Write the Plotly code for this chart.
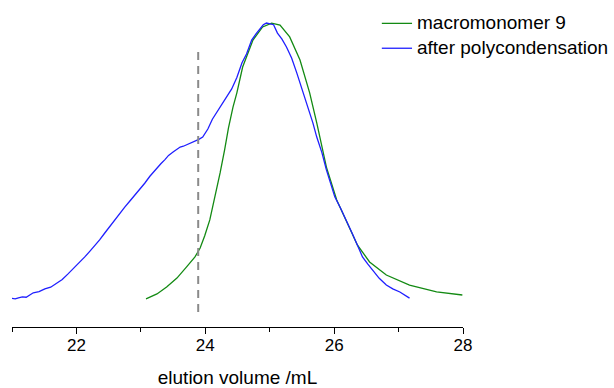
import plotly.graph_objects as go

# GPC traces: elution volume (mL) vs normalised RI signal
mono_vol = [23.08, 23.25, 23.40, 23.56, 23.71, 23.84, 23.92, 23.99, 24.07, 24.15,
            24.23, 24.30, 24.36, 24.43, 24.49, 24.58, 24.74, 24.89, 25.03, 25.16,
            25.31, 25.47, 25.62, 25.73, 25.88, 26.04, 26.19, 26.36, 26.55, 26.81,
            27.17, 27.59, 27.99]
mono_sig = [0.004, 0.022, 0.047, 0.079, 0.119, 0.155, 0.187, 0.230, 0.288, 0.371,
            0.457, 0.540, 0.619, 0.694, 0.745, 0.838, 0.935, 0.982, 0.996, 0.989,
            0.946, 0.863, 0.745, 0.637, 0.478, 0.360, 0.281, 0.198, 0.137, 0.090,
            0.054, 0.029, 0.018]

poly_vol = [21.00, 21.05, 21.10, 21.16, 21.22, 21.28, 21.33, 21.42, 21.51, 21.60,
            21.70, 21.78, 21.87, 21.96, 22.05, 22.13, 22.21, 22.29, 22.36, 22.44,
            22.52, 22.60, 22.67, 22.75, 22.83, 22.91, 22.98, 23.06, 23.14, 23.20,
            23.25, 23.31, 23.37, 23.43, 23.50, 23.55, 23.61, 23.66, 23.71, 23.78,
            23.84, 23.90, 23.96, 24.04, 24.11, 24.23, 24.33, 24.41, 24.49, 24.57,
            24.64, 24.72, 24.79, 24.85, 24.90, 24.95, 25.00, 25.06, 25.12, 25.19,
            25.26, 25.34, 25.42, 25.48, 25.54, 25.61, 25.67, 25.73, 25.81, 25.88,
            25.95, 26.01, 26.10, 26.19, 26.28, 26.36, 26.44, 26.52, 26.60, 26.70,
            26.81, 26.91, 27.02, 27.10, 27.17]
poly_sig = [0.006, 0.004, 0.008, 0.011, 0.010, 0.018, 0.026, 0.030, 0.040, 0.046,
            0.061, 0.074, 0.094, 0.114, 0.137, 0.155, 0.176, 0.196, 0.216, 0.241,
            0.266, 0.289, 0.313, 0.334, 0.356, 0.378, 0.396, 0.420, 0.445, 0.462,
            0.475, 0.490, 0.504, 0.520, 0.532, 0.540, 0.550, 0.553, 0.558, 0.566,
            0.572, 0.578, 0.586, 0.615, 0.650, 0.694, 0.732, 0.759, 0.800, 0.853,
            0.885, 0.935, 0.958, 0.978, 0.990, 0.996, 0.993, 0.990, 0.960, 0.938,
            0.910, 0.870, 0.817, 0.775, 0.730, 0.685, 0.637, 0.586, 0.530, 0.468,
            0.415, 0.371, 0.330, 0.288, 0.240, 0.198, 0.155, 0.130, 0.108, 0.078,
            0.054, 0.040, 0.029, 0.016, 0.007]

series_names = ["macromonomer 9", "after polycondensation"]
series_colors = ["#138a13", "#1f1fff"]
cut_volume = 23.89

FONT = "Liberation Sans, Arial, sans-serif"

fig = go.Figure()
for vol, sig, name, col in zip([mono_vol, poly_vol], [mono_sig, poly_sig],
                               series_names, series_colors):
    fig.add_trace(go.Scatter(x=vol, y=sig, mode="lines", name=name,
                             line=dict(color=col, width=1.3), showlegend=False))

# dashed marker at the cut-off volume
fig.add_shape(type="line", x0=cut_volume, x1=cut_volume, y0=-0.043, y1=0.892,
              xref="x", yref="y", line=dict(color="#8a8a8a", width=2, dash="8px,6px"))

# key in the top-right corner: short line sample + label per series
key_rows = [0.993, 0.912]
for name, col, yr in zip(series_names, series_colors, key_rows):
    fig.add_shape(type="line", xref="paper", yref="paper",
                  x0=0.820, x1=0.887, y0=yr - 0.004, y1=yr - 0.004,
                  line=dict(color=col, width=1.3))
    fig.add_annotation(text=name, xref="paper", yref="paper", x=0.893, y=yr,
                       xanchor="left", yanchor="middle", showarrow=False,
                       font=dict(family=FONT, size=19, color="black"))

fig.update_layout(
    width=614, height=388,
    margin=dict(l=12, r=151, t=20, b=61, autoexpand=False),
    paper_bgcolor="white", plot_bgcolor="white",
    font=dict(family=FONT, size=17, color="black"),
    showlegend=False,
    xaxis=dict(range=[21, 28], showgrid=False, zeroline=False,
               showline=True, linecolor="black", linewidth=1.3,
               tick0=22, dtick=2, ticks="outside", ticklen=6, tickwidth=1.3,
               tickcolor="black", tickfont=dict(family=FONT, size=17),
               ticklabelstandoff=-4,
               minor=dict(tick0=21, dtick=1, ticks="outside", ticklen=4,
                          tickwidth=1.3, tickcolor="black", showgrid=False),
               title=dict(text="elution volume /mL", font=dict(family=FONT, size=19),
                          standoff=24)),
    yaxis=dict(range=[-0.097, 1.007], visible=False),
)

fig.write_html("out.html")
